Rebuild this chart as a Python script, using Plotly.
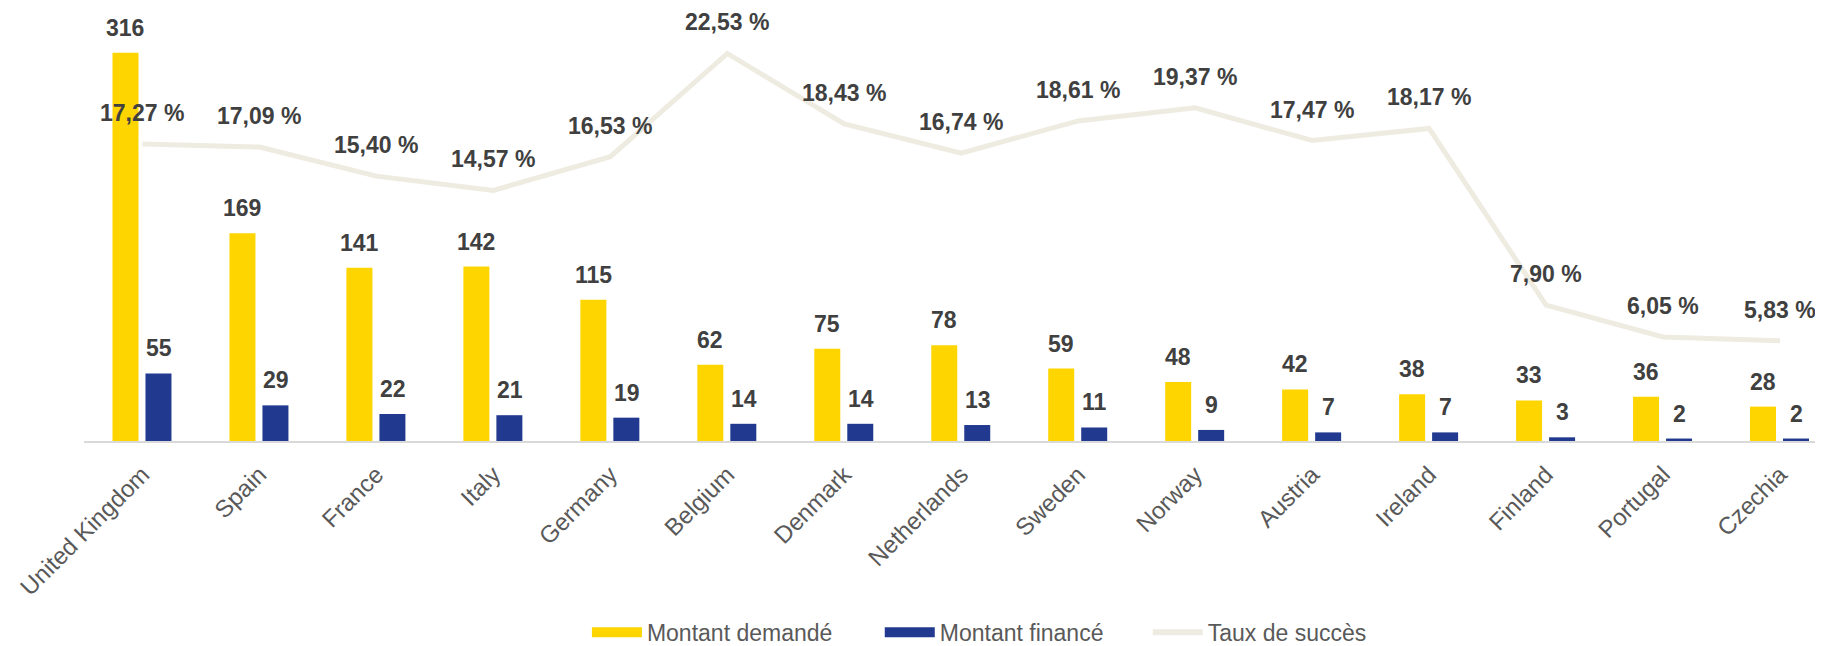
import plotly.graph_objects as go

countries = ["United Kingdom", "Spain", "France", "Italy", "Germany", "Belgium", "Denmark",
             "Netherlands", "Sweden", "Norway", "Austria", "Ireland", "Finland", "Portugal", "Czechia"]
montant_demande = [316, 169, 141, 142, 115, 62, 75, 78, 59, 48, 42, 38, 33, 36, 28]
montant_finance = [55, 29, 22, 21, 19, 14, 14, 13, 11, 9, 7, 7, 3, 2, 2]
taux_succes = [17.27, 17.09, 15.40, 14.57, 16.53, 22.53, 18.43, 16.74, 18.61, 19.37,
               17.47, 18.17, 7.90, 6.05, 5.83]
series_names = ["Montant demandé", "Montant financé", "Taux de succès"]

YELLOW = "#FFD500"
BLUE = "#213A8F"
LINE = "#EEEBE1"
LABEL = "#404040"
AXISTXT = "#595959"
FONT = "Liberation Sans, Arial, sans-serif"

# page body has an 8px margin, so the figure is 8px smaller than the window
W, H = 1815, 638
ML, MT, MB = 75.5, 3, 205.3
cat_px = 117.0
xmax = (W - ML) / cat_px - 0.5

fig = go.Figure()
bw = 26 / cat_px
fig.add_trace(go.Bar(x=countries, y=montant_demande, name=series_names[0],
                     marker=dict(color=YELLOW, line=dict(width=0)),
                     width=bw, offset=-30 / cat_px, showlegend=False, yaxis="y"))
fig.add_trace(go.Bar(x=countries, y=montant_finance, name=series_names[1],
                     marker=dict(color=BLUE, line=dict(width=0)),
                     width=bw, offset=3 / cat_px, showlegend=False, yaxis="y"))
fig.add_trace(go.Scatter(x=countries, y=taux_succes, name=series_names[2], mode="lines",
                         line=dict(color=LINE, width=5), yaxis="y2", showlegend=False))

# legend entries (wide swatches), each in its own legend box
legend_ids = ["legend", "legend2", "legend3"]
for name, col, w, lg in zip(series_names, [YELLOW, BLUE, LINE], [12, 12, 6], legend_ids):
    fig.add_trace(go.Scatter(x=[None], y=[None], mode="lines", name=name,
                             line=dict(color=col, width=w), showlegend=True, legend=lg))

LBL = 23
ann = []
for c, v in zip(countries, montant_demande):
    ann.append(dict(x=c, y=v, yref="y", text=f"<b>{v}</b>", showarrow=False,
                    xshift=-17, yshift=25, font=dict(size=LBL, color=LABEL, family=FONT)))
for c, v in zip(countries, montant_finance):
    ann.append(dict(x=c, y=v, yref="y", text=f"<b>{v}</b>", showarrow=False,
                    xshift=16.5, yshift=25, font=dict(size=LBL, color=LABEL, family=FONT)))
for c, v in zip(countries, taux_succes):
    ann.append(dict(x=c, y=v, yref="y2", text="<b>" + f"{v:.2f}".replace(".", ",") + " %</b>",
                    showarrow=False, yshift=31, font=dict(size=LBL, color=LABEL, family=FONT)))

leg_common = dict(orientation="h", xanchor="left", y=-0.445, yanchor="middle",
                  font=dict(size=23, color=AXISTXT, family=FONT), itemwidth=50,
                  bgcolor="rgba(0,0,0,0)")

fig.update_layout(
    width=W, height=H,
    margin=dict(l=ML, r=0, t=MT, b=MB, pad=0, autoexpand=False),
    paper_bgcolor="white", plot_bgcolor="white",
    barmode="overlay",
    font=dict(family=FONT, size=23, color=AXISTXT),
    xaxis=dict(type="category", range=[-0.5, xmax], showgrid=False, showline=True,
               linecolor="#D9D9D9", linewidth=2, ticks="", tickangle=-45, automargin=False,
               ticklabelstandoff=8,
               tickfont=dict(size=24, color=AXISTXT, family=FONT), zeroline=False),
    yaxis=dict(range=[0, 350], visible=False, showgrid=False, zeroline=False, automargin=False),
    yaxis2=dict(range=[0, 25], overlaying="y", visible=False, showgrid=False, zeroline=False,
                automargin=False),
    legend=dict(x=0.2892, **leg_common),
    legend2=dict(x=0.4576, **leg_common),
    legend3=dict(x=0.6117, **leg_common),
    annotations=ann,
)

fig.write_html("out.html")
